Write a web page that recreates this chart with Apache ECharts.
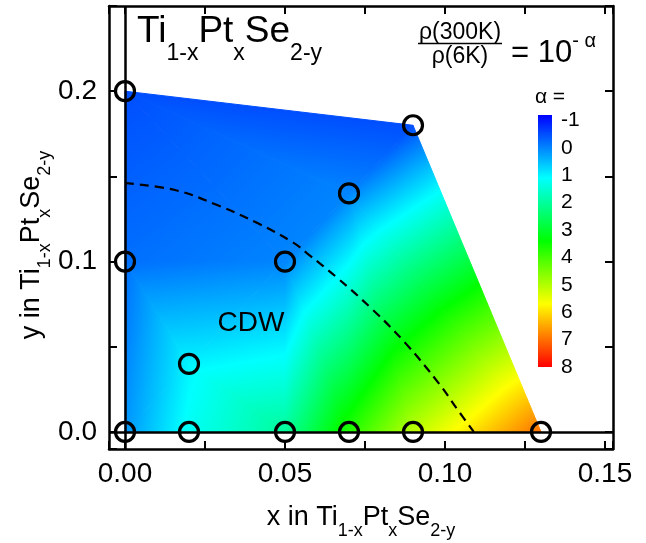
<!DOCTYPE html>
<html><head><meta charset="utf-8">
<script src="https://cdn.jsdelivr.net/npm/echarts@6/dist/echarts.min.js"></script>
<style>html,body{margin:0;padding:0;background:#fff}#c{width:646px;height:543px}</style>
</head><body><div id="c"></div>
<script>
// ---- data ----
const pointX = [0, 0.09, 0.07, 0.05, 0, 0.02, 0, 0.02, 0.05, 0.07, 0.09, 0.13];
const pointY = [0.2, 0.18, 0.14, 0.1, 0.1, 0.04, 0, 0, 0, 0, 0, 0];
const pointAlpha = [-0.5, -0.5, 0.0, 0.0, -0.2, 1.0, 0.15, 1.2, 2.0, 3.7, 5.1, 7.0];
// triangulation of the measured points (vertex indices)
const triangles = [[0,4,3],[0,3,2],[0,2,1],[1,2,11],[2,10,11],[2,9,10],[2,3,9],[3,8,9],[3,5,8],[4,5,3],[4,6,5],[5,6,7],[5,7,8]];
// CDW boundary (dashed)
const cdwX = [0, 0.0156, 0.029, 0.0414, 0.0527, 0.0568, 0.066, 0.0775, 0.0877, 0.098, 0.104, 0.109];
const cdwY = [0.146, 0.142, 0.133, 0.1226, 0.111, 0.105, 0.091, 0.0716, 0.052, 0.0287, 0.0129, 0];
// colour scale
const cmapValues = [-1.2, 1.1, 3.4, 5.7, 8.0];
const cmapColors = ['#0000ff', '#00ffff', '#00ff00', '#ffff00', '#ff0000'];
const colorbarRange = [-1.2, 8];
// tick labels
const xTickLabels = ['0.00', '0.05', '0.10', '0.15'];
const yTickLabels = ['0.0', '0.1', '0.2'];
const colorbarLabels = ['-1', '0', '1', '2', '3', '4', '5', '6', '7', '8'];

const FONT = '"Liberation Sans", Arial, Helvetica, sans-serif';

function hexRgb(h){ return [parseInt(h.substr(1,2),16), parseInt(h.substr(3,2),16), parseInt(h.substr(5,2),16)]; }
const cmapRGB = cmapColors.map(hexRgb);
function cmap(v){
  const n = cmapValues.length;
  if (v <= cmapValues[0]) return 'rgb(' + cmapRGB[0].join(',') + ')';
  if (v >= cmapValues[n-1]) return 'rgb(' + cmapRGB[n-1].join(',') + ')';
  for (let i = 0; i < n-1; i++) {
    if (v <= cmapValues[i+1]) {
      const t = (v - cmapValues[i]) / (cmapValues[i+1] - cmapValues[i]);
      const c = cmapRGB[i].map((c0, k) => Math.round(c0 + t * (cmapRGB[i+1][k] - c0)));
      return 'rgb(' + c.join(',') + ')';
    }
  }
}
function stopsBetween(vlo, vhi){
  const st = [{offset: 0, color: cmap(vlo)}];
  cmapValues.forEach(s => { if (s > vlo && s < vhi) st.push({offset: (s - vlo) / (vhi - vlo), color: cmap(s)}); });
  st.push({offset: 1, color: cmap(vhi)});
  return st;
}

function renderTriangle(params, api){
  const tri = triangles[params.dataIndex];
  const pts = tri.map(i => api.coord([pointX[i], pointY[i]]));
  const vs = tri.map(i => pointAlpha[i]);
  const [x0,y0] = pts[0], [x1,y1] = pts[1], [x2,y2] = pts[2];
  const det = (x1-x0)*(y2-y0) - (x2-x0)*(y1-y0);
  const dv1 = vs[1]-vs[0], dv2 = vs[2]-vs[0];
  const a = (dv1*(y2-y0) - dv2*(y1-y0)) / det;
  const b = ((x1-x0)*dv2 - (x2-x0)*dv1) / det;
  const g2 = a*a + b*b;
  let vmin = Math.min(...vs), vmax = Math.max(...vs);
  let fill;
  if (g2 < 1e-14 || vmax - vmin < 1e-9) {
    fill = cmap(vmin);
  } else {
    const k = vs.indexOf(vmin);
    const S = pts[k];
    const E = [S[0] + a*(vmax-vmin)/g2, S[1] + b*(vmax-vmin)/g2];
    fill = new echarts.graphic.LinearGradient(S[0], S[1], E[0], E[1], stopsBetween(vmin, vmax), true);
  }
  return {type: 'polygon', shape: {points: pts}, style: {fill: fill, stroke: fill, lineWidth: 1}, silent: true};
}

function renderColorbar(params, api){
  const p0 = api.coord([0, colorbarRange[0]]);
  const p1 = api.coord([1, colorbarRange[1]]);
  const span = colorbarRange[1] - colorbarRange[0];
  const st = [{offset:0, color: cmap(colorbarRange[0])}];
  cmapValues.forEach(s => { if (s > colorbarRange[0] && s < colorbarRange[1]) st.push({offset:(s-colorbarRange[0])/span, color: cmap(s)}); });
  st.push({offset:1, color: cmap(colorbarRange[1])});
  const grad = new echarts.graphic.LinearGradient(0, p0[1], 0, p1[1], st, true);
  return {type:'rect', shape:{x: Math.min(p0[0],p1[0]), y: Math.min(p0[1],p1[1]), width: Math.abs(p1[0]-p0[0]), height: Math.abs(p1[1]-p0[1])}, style:{fill: grad}, silent: true};
}

function labelFrom(list, step){
  return function(v){
    const k = v / step;
    if (Math.abs(k - Math.round(k)) < 1e-6 && Math.round(k) >= 0 && Math.round(k) < list.length) return list[Math.round(k)];
    return '';
  };
}

const axisLineStyle = {show: true, onZero: false, lineStyle: {color: '#000', width: 2.5}};
const tickStyle = {show: true, inside: true, length: 8, lineStyle: {color: '#000', width: 2}};

function subRich(main, sub, pad){
  return {
    m: {fontSize: main, lineHeight: main, fontFamily: FONT, color: '#000', verticalAlign: 'top'},
    s: {fontSize: sub, lineHeight: sub, fontFamily: FONT, color: '#000', verticalAlign: 'top', padding: [pad, 0, 0, 0]}
  };
}

const chart = echarts.init(document.getElementById('c'), null, {renderer: 'canvas'});
chart.setOption({
  animation: false,
  backgroundColor: '#fff',
  grid: [
    {left: 109, right: 33, top: 6, bottom: 94, outerBoundsMode: 'none', containLabel: false},
    {left: 538, width: 14, top: 115, height: 252, outerBoundsMode: 'none', containLabel: false}
  ],
  xAxis: [
    {type: 'value', gridIndex: 0, position: 'bottom', min: -0.005, max: 0.1525, minInterval: 0.025, maxInterval: 0.025,
     axisLine: axisLineStyle, axisTick: tickStyle, splitLine: {show: false},
     axisLabel: {formatter: labelFrom(xTickLabels, 0.05), fontSize: 28, fontFamily: FONT, color: '#000', margin: 11}},
    {type: 'value', gridIndex: 0, position: 'top', min: -0.005, max: 0.1525, minInterval: 0.025, maxInterval: 0.025,
     axisLine: axisLineStyle, axisTick: tickStyle, splitLine: {show: false}, axisLabel: {show: false}},
    {type: 'value', gridIndex: 1, min: 0, max: 1, show: false}
  ],
  yAxis: [
    {type: 'value', gridIndex: 0, position: 'left', min: -0.01, max: 0.25, minInterval: 0.05, maxInterval: 0.05,
     axisLine: axisLineStyle, axisTick: tickStyle, splitLine: {show: false},
     axisLabel: {formatter: labelFrom(yTickLabels, 0.1), fontSize: 28, fontFamily: FONT, color: '#000', margin: 12}},
    {type: 'value', gridIndex: 0, position: 'right', min: -0.01, max: 0.25, minInterval: 0.05, maxInterval: 0.05,
     axisLine: axisLineStyle, axisTick: tickStyle, splitLine: {show: false}, axisLabel: {show: false}},
    {type: 'value', gridIndex: 1, position: 'right', min: colorbarRange[0], max: colorbarRange[1], inverse: true,
     minInterval: 1, maxInterval: 1, axisLine: {show: false}, axisTick: {show: false}, splitLine: {show: false},
     axisLabel: {formatter: function(v){ const k = Math.round(v); return Math.abs(v-k) < 1e-6 && k >= -1 && k <= 8 ? colorbarLabels[k+1] : ''; },
                 fontSize: 21, fontFamily: FONT, color: '#000', margin: 9, align: 'left'}}
  ],
  series: [
    {type: 'custom', xAxisIndex: 0, yAxisIndex: 0, data: triangles, renderItem: renderTriangle, silent: true, z: 1,
     markLine: {silent: true, symbol: ['none', 'none'], label: {show: false}, animation: false,
       lineStyle: {color: '#000', width: 2.5, type: 'solid', opacity: 1}, emphasis: {disabled: true},
       data: [{xAxis: 0}, {yAxis: 0}]}},
    {type: 'line', xAxisIndex: 0, yAxisIndex: 0, data: cdwX.map((x, i) => [x, cdwY[i]]), smooth: 0.4,
     showSymbol: false, silent: true, z: 5, lineStyle: {color: '#000', width: 2.2, type: [9, 6], opacity: 1}},
    {type: 'scatter', xAxisIndex: 0, yAxisIndex: 0, data: pointX.map((x, i) => [x, pointY[i]]), symbol: 'circle',
     symbolSize: 19, silent: true, z: 10, itemStyle: {color: 'rgba(0,0,0,0)', borderColor: '#000', borderWidth: 3.2, opacity: 1}},
    {type: 'custom', xAxisIndex: 2, yAxisIndex: 2, data: [[0, 0]], renderItem: renderColorbar, silent: true, z: 1}
  ],
  graphic: [
    {type: 'text', x: 137, y: 13, silent: true, z: 20,
     style: {text: '{m|Ti}{s|1-x}{m|Pt}{s|x}{m|Se}{s|2-y}', rich: subRich(37, 23, 29), fontFamily: FONT, fill: '#000', align: 'left', verticalAlign: 'top'}},
    {type: 'text', x: 460, y: 33, silent: true, z: 20,
     style: {text: 'ρ(300K)', fontSize: 23, fontFamily: FONT, fill: '#000', align: 'center', verticalAlign: 'middle'}},
    {type: 'line', silent: true, z: 20, shape: {x1: 418, y1: 43.5, x2: 502, y2: 43.5}, style: {stroke: '#000', lineWidth: 1.5}},
    {type: 'text', x: 460, y: 57, silent: true, z: 20,
     style: {text: 'ρ(6K)', fontSize: 23, fontFamily: FONT, fill: '#000', align: 'center', verticalAlign: 'middle'}},
    {type: 'text', x: 511, y: 31, silent: true, z: 20,
     style: {text: '{m|= 10}{p|- α}', fontFamily: FONT, fill: '#000', align: 'left', verticalAlign: 'top',
       rich: {m: {fontSize: 31, lineHeight: 31, fontFamily: FONT, color: '#000', verticalAlign: 'top', padding: [7, 0, 0, 0]},
              p: {fontSize: 20, lineHeight: 20, fontFamily: FONT, color: '#000', verticalAlign: 'top'}}}},
    {type: 'text', x: 550, y: 97, silent: true, z: 20,
     style: {text: 'α =', fontSize: 21, fontFamily: FONT, fill: '#000', align: 'center', verticalAlign: 'middle'}},
    {type: 'text', x: 251, y: 323, silent: true, z: 20,
     style: {text: 'CDW', fontSize: 28, fontFamily: FONT, fill: '#000', align: 'center', verticalAlign: 'middle'}},
    {type: 'text', x: 361, y: 504, silent: true, z: 20,
     style: {text: '{m|x in Ti}{s|1-x}{m|Pt}{s|x}{m|Se}{s|2-y}', rich: subRich(27, 18, 18), fontFamily: FONT, fill: '#000', align: 'center', verticalAlign: 'top'}},
    {type: 'text', x: 32, y: 245, rotation: Math.PI / 2, silent: true, z: 20,
     style: {text: '{m|y in Ti}{s|1-x}{m|Pt}{s|x}{m|Se}{s|2-y}', rich: subRich(27, 18, 18), fontFamily: FONT, fill: '#000', align: 'center', verticalAlign: 'middle'}}
  ]
});
</script>
</body></html>
